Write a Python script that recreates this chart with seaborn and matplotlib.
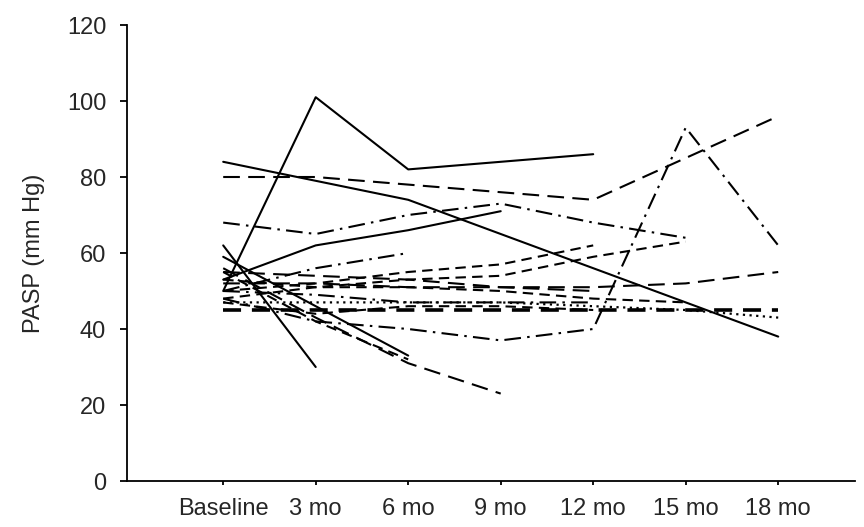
import numpy as np
import pandas as pd
import matplotlib
matplotlib.use("Agg")
import matplotlib.pyplot as plt
import seaborn as sns

visits = ["Baseline", "3 mo", "6 mo", "9 mo", "12 mo", "15 mo", "18 mo"]
nan = np.nan

# PASP per patient at each visit (mm Hg)
p01 = [50, 101, 82, 84, 86, nan, nan]
p02 = [84, 79, 74, 65, 56, 47, 38]
p03 = [80, 80, 78, 76, 74, 85, 96]
p04 = [68, 65, 70, 73, 68, 64, nan]
p05 = [53, 62, 66, 71, nan, nan, nan]
p06 = [50, 56, 60, nan, nan, nan, nan]
p07 = [50, 52, 55, 57, 62, nan, nan]
p08 = [48, 51, 53, 54, 59, 63, nan]
p09 = [48, 42, 40, 37, 40, 93, 62]
p10 = [52, 52, 51, 51, 51, 52, 55]
p11 = [45, 45, 45, 45, 45, 45, 45]
p12 = [47, 47, 47, 47, 46, 45, 43]
p13 = [62, 30, nan, nan, nan, nan, nan]
p14 = [59, 46, 33, nan, nan, nan, nan]
p15 = [56, 43, 31, 23, nan, nan, nan]
p16 = [55, 42, 32, nan, nan, nan, nan]
p17 = [50, 49, 47, 47, 47, nan, nan]
p18 = [53, 51, 51, 50, 48, 47, nan]
p19 = [47, 44, 46, 46, 45, nan, nan]
p20 = [55, 54, 53, 51, 50, nan, nan]

patients = {
    "P01": p01, "P02": p02, "P03": p03, "P04": p04, "P05": p05,
    "P06": p06, "P07": p07, "P08": p08, "P09": p09, "P10": p10,
    "P11": p11, "P12": p12, "P13": p13, "P14": p14, "P15": p15,
    "P16": p16, "P17": p17, "P18": p18, "P19": p19, "P20": p20,
}

solid, longdash, dash, dashdot, dotted = "", (8, 4), (5, 3), (8, 3, 1.2, 3), (1, 2)
line_styles = {
    "P01": solid, "P02": solid, "P03": longdash, "P04": dashdot, "P05": solid,
    "P06": dashdot, "P07": dash, "P08": dash, "P09": dashdot, "P10": longdash,
    "P11": dash, "P12": dotted, "P13": solid, "P14": solid, "P15": longdash,
    "P16": dash, "P17": dashdot, "P18": dash, "P19": dash, "P20": longdash,
}
widths = {p: 1.5 for p in patients}
widths["P11"] = 2.6
widths["P12"] = 1.6

rows = []
for pid, vals in patients.items():
    for i, v in enumerate(vals):
        if not np.isnan(v):
            rows.append({"patient": pid, "visit": i, "pasp": v})
df = pd.DataFrame(rows)

sns.set_style("white")
plt.rcParams["font.family"] = ["Liberation Sans", "DejaVu Sans"]

fig = plt.figure(figsize=(8.64, 5.27), dpi=100)
ax = fig.add_axes([127 / 864, 1 - 481 / 527, 728 / 864, (481 - 25) / 527])

sns.lineplot(data=df, x="visit", y="pasp", hue="patient", style="patient",
             size="patient", palette={p: "black" for p in patients},
             dashes=line_styles, sizes=widths, estimator=None,
             legend=False, ax=ax)

ax.set_xlim(-1.04, 6.83)
ax.set_ylim(0, 120)
ax.set_yticks(range(0, 121, 20))
ax.set_xticks(range(len(visits)))
ax.set_xticklabels(visits)
ax.set_xlabel("")
ax.set_ylabel("PASP (mm Hg)", fontsize=17)
ax.yaxis.set_label_coords(-0.113, 0.5)

for s in ["top", "right"]:
    ax.spines[s].set_visible(False)
for s in ["left", "bottom"]:
    ax.spines[s].set_color("black")
    ax.spines[s].set_linewidth(1.3)
ax.tick_params(axis="y", direction="out", length=5, width=1.3, color="black",
               labelsize=17, pad=10, left=True)
ax.tick_params(axis="x", direction="out", length=3, width=1.3, color="black",
               labelsize=17, pad=9, bottom=True)

fig.savefig("out.png", dpi=100, facecolor="white")
